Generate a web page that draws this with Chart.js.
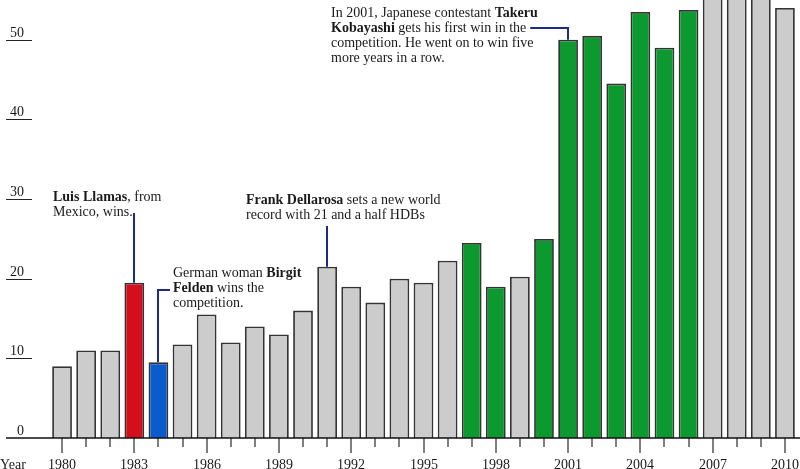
<!DOCTYPE html>
<html>
<head>
<meta charset="utf-8">
<script src="https://cdn.jsdelivr.net/npm/chart.js@4"></script>
<style>
html,body{margin:0;padding:0;background:#fff;}
#wrap{width:800px;height:469px;position:relative;}
</style>
</head>
<body>
<div id="wrap"><canvas id="c" width="800" height="469"></canvas></div>
<script>
// ---- data ----
const years = [1980,1981,1982,1983,1984,1985,1986,1987,1988,1989,1990,1991,1992,1993,1994,1995,1996,1997,1998,1999,2000,2001,2002,2003,2004,2005,2006,2007,2008,2009,2010];
const hotDogs = [9,11,11,19.5,9.5,11.75,15.5,12,14,13,16,21.5,19,17,20,19.5,22.25,24.5,19,20.25,25,50,50.5,44.5,53.5,49,53.75,66,59,68,54];
const mexicoYears = [1983];
const germanyYears = [1984];
const japanYears = [1997,1998,2000,2001,2002,2003,2004,2005,2006];
const yTicks = [0,10,20,30,40,50];
const labelledYears = [1980,1983,1986,1989,1992,1995,1998,2001,2004,2007,2010];

const FONT = '"Liberation Serif", serif';
const FS = 14;
const TXT = '#1a1a1a';
const NAVY = '#1b2a8c';

function colorFor(y){
  if (mexicoYears.includes(y)) return '#d20f1a';
  if (germanyYears.includes(y)) return '#0b5bcc';
  if (japanYears.includes(y)) return '#0c9a30';
  return '#cccccc';
}

function drawRich(ctx, x, y, segs){
  let cx = x;
  ctx.textBaseline = 'middle';
  ctx.textAlign = 'left';
  segs.forEach(s=>{
    ctx.font = (s[1] ? 'bold ' : '') + FS + 'px ' + FONT;
    ctx.fillStyle = TXT;
    ctx.fillText(s[0], cx, y);
    cx += ctx.measureText(s[0]).width;
  });
  return cx;
}

const annotations = [
  { year:1983, lines:[[['Luis Llamas',1],[', from',0]],[['Mexico, wins.',0]]], x:53, y:197,
    path:(px,py,ends)=>[[px,213],[px,py]] },
  { year:1984, lines:[[['German woman ',0],['Birgit',1]],[['Felden',1],[' wins the',0]],[['competition.',0]]], x:173, y:273,
    path:(px,py,ends)=>[[px,py],[px,290],[170,290]] },
  { year:1991, lines:[[['Frank Dellarosa',1],[' sets a new world',0]],[['record with 21 and a half HDBs',0]]], x:246, y:200,
    path:(px,py,ends)=>[[px,226],[px,py]] },
  { year:2001, lines:[[['In 2001, Japanese contestant ',0],['Takeru',1]],[['Kobayashi',1],[' gets his first win in the',0]],[['competition. He went on to win five',0]],[['more years in a row.',0]]], x:331, y:13,
    path:(px,py,ends)=>[[ends[1]+4,28],[px,28],[px,py]] }
];

const overlay = {
  id:'overlay',
  afterDatasetsDraw(chart){
    const ctx = chart.ctx;
    const xs = chart.scales.x, ys = chart.scales.y;
    const y0 = ys.getPixelForValue(0);
    ctx.save();
    // y labels + underlines
    yTicks.forEach(v=>{
      const py = ys.getPixelForValue(v);
      ctx.font = FS + 'px ' + FONT;
      ctx.fillStyle = TXT;
      ctx.textAlign = 'right';
      ctx.textBaseline = 'alphabetic';
      ctx.fillText(String(v), 24, py - 3);
      if (v !== 0){
        ctx.strokeStyle = '#222';
        ctx.lineWidth = 1;
        ctx.beginPath(); ctx.moveTo(6, Math.round(py)+0.5); ctx.lineTo(32, Math.round(py)+0.5); ctx.stroke();
      }
    });
    // x ticks
    years.forEach((yr,i)=>{
      const px = Math.round(xs.getPixelForValue(i));
      const major = labelledYears.includes(yr);
      ctx.strokeStyle = '#555';
      ctx.lineWidth = 1.5;
      ctx.beginPath(); ctx.moveTo(px, y0); ctx.lineTo(px, y0 + (major ? 15 : 9)); ctx.stroke();
      if (major){
        ctx.font = FS + 'px ' + FONT;
        ctx.fillStyle = TXT;
        ctx.textAlign = 'center';
        ctx.textBaseline = 'middle';
        ctx.fillText(String(yr), px, 465);
      }
    });
    ctx.font = FS + 'px ' + FONT;
    ctx.fillStyle = TXT;
    ctx.textAlign = 'left';
    ctx.textBaseline = 'middle';
    ctx.fillText('Year', 0, 465);
    // baseline
    ctx.strokeStyle = '#111';
    ctx.lineWidth = 1.5;
    ctx.beginPath(); ctx.moveTo(6, y0); ctx.lineTo(800, y0); ctx.stroke();
    // annotations
    annotations.forEach(a=>{
      const i = years.indexOf(a.year);
      const px = Math.round(xs.getPixelForValue(i));
      const py = ys.getPixelForValue(hotDogs[i]);
      const ends = a.lines.map((segs,k)=> drawRich(ctx, a.x, a.y + k*15, segs));
      ctx.strokeStyle = NAVY;
      ctx.lineWidth = 2;
      ctx.beginPath();
      a.path(px,py,ends).forEach((p,k)=>{ if(k===0) ctx.moveTo(p[0],p[1]); else ctx.lineTo(p[0],p[1]); });
      ctx.stroke();
    });
    ctx.restore();
  }
};

new Chart(document.getElementById('c'), {
  type:'bar',
  data:{
    labels: years.map(String),
    datasets:[{
      data: hotDogs,
      backgroundColor: years.map(colorFor),
      borderColor: '#333',
      borderWidth: 1.8,
      borderSkipped: 'bottom',
      categoryPercentage: 1,
      barPercentage: 0.82
    }]
  },
  options:{
    responsive:false,
    animation:false,
    devicePixelRatio:1,
    layout:{padding:{left:50,right:3,top:0,bottom:31}},
    plugins:{legend:{display:false},tooltip:{enabled:false}},
    scales:{
      x:{display:false},
      y:{display:false,min:0,max:55}
    }
  },
  plugins:[overlay]
});
</script>
</body>
</html>
